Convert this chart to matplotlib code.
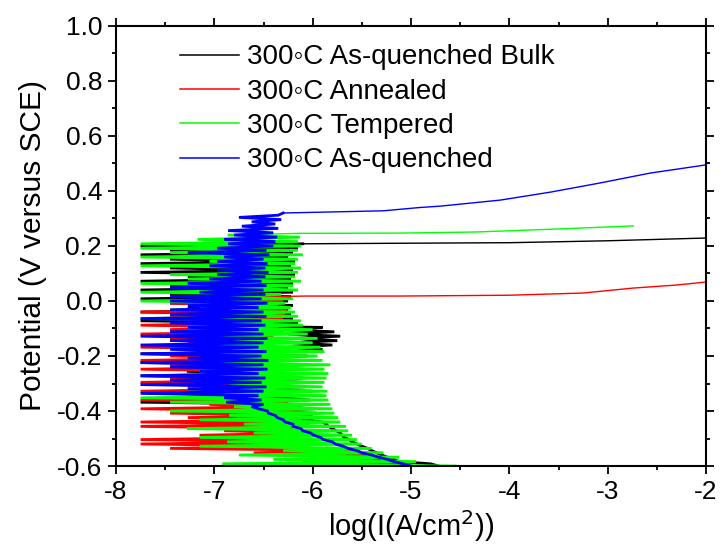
import matplotlib
matplotlib.use('Agg')
import matplotlib.pyplot as plt
from matplotlib.ticker import MultipleLocator, FormatStrFormatter

plt.rcParams['font.family'] = ['Liberation Sans', 'DejaVu Sans']
plt.rcParams['axes.unicode_minus'] = False

# Potential sample points of the scans (V versus SCE)
E_scan = [
    -0.600, -0.592, -0.584, -0.576, -0.568, -0.560, -0.552, -0.544, -0.536, -0.528,
    -0.520, -0.512, -0.504, -0.496, -0.488, -0.480, -0.472, -0.464, -0.456, -0.448,
    -0.440, -0.432, -0.424, -0.416, -0.408, -0.400, -0.392, -0.384, -0.376, -0.368,
    -0.360, -0.352, -0.344, -0.336, -0.328, -0.320, -0.312, -0.304, -0.296, -0.288,
    -0.280, -0.272, -0.264, -0.256, -0.248, -0.240, -0.232, -0.224, -0.216, -0.208,
    -0.200, -0.192, -0.184, -0.176, -0.168, -0.160, -0.152, -0.144, -0.136, -0.128,
    -0.120, -0.112, -0.104, -0.096, -0.088, -0.080, -0.072, -0.064, -0.056, -0.048,
    -0.040, -0.032, -0.024, -0.016, -0.008, 0.000, 0.008, 0.016, 0.024, 0.032,
    0.040, 0.048, 0.056, 0.064, 0.072, 0.080, 0.088, 0.096, 0.104, 0.112,
    0.120, 0.128, 0.136, 0.144, 0.152, 0.160, 0.168, 0.176, 0.184, 0.192,
    0.200, 0.208, 0.216, 0.224, 0.232, 0.240, 0.248, 0.256, 0.264, 0.272,
    0.280, 0.288, 0.296, 0.304, 0.312, 0.320,
]

labels = ['300\u25e6C As-quenched Bulk', '300\u25e6C Annealed',
          '300\u25e6C Tempered', '300\u25e6C As-quenched']
colors = ['#000000', '#ff0000', '#00ff00', '#0000ff']

# log(I) on the scan points (noisy low-current region)
bulk_logI = [
    -4.72, -4.80, -5.12, -5.18, -5.24, -5.30, -5.35, -5.40, -5.44, -5.50,
    -5.55, -5.60, -5.63, -5.68, -5.70, -5.72, -5.76, -5.80, -5.84, -5.86,
    -5.90, -6.20, -5.93, -6.40, -5.96, -6.80, -5.98, -6.50, -6.00, -7.75,
    -6.02, -6.60, -6.05, -7.45, -6.00, -6.90, -6.08, -7.27, -6.05, -6.70,
    -6.10, -7.75, -6.05, -7.28, -6.12, -6.95, -6.08, -7.75, -6.10, -7.15,
    -6.05, -7.75, -6.20, -5.90, -6.25, -5.80, -6.22, -5.75, -6.20, -5.72,
    -6.25, -5.78, -6.30, -5.90, -7.45, -6.15, -7.75, -6.20, -6.95, -6.22,
    -7.75, -6.25, -7.27, -6.20, -7.45, -6.25, -7.75, -6.22, -7.45, -6.20,
    -7.75, -6.25, -7.45, -6.20, -7.75, -6.22, -7.27, -6.18, -7.75, -6.20,
    -7.45, -6.22, -7.75, -6.18, -7.45, -6.25, -7.75, -6.20, -7.45, -6.15,
    -7.75, -6.10,
]
annealed_logI = [
    -5.05, -5.20, -6.10, -5.30, -5.80, -5.45, -6.60, -5.55, -7.45, -6.06,
    -7.75, -6.10, -7.75, -6.30, -7.15, -6.00, -6.90, -6.20, -7.75, -6.05,
    -7.75, -6.10, -7.27, -6.00, -7.45, -6.15, -7.75, -6.30, -7.05, -6.25,
    -7.75, -6.40, -7.15, -6.35, -7.75, -6.45, -7.27, -6.40, -7.75, -6.50,
    -7.45, -6.40, -7.05, -6.45, -7.75, -6.30, -7.45, -6.40, -7.75, -6.35,
    -7.45, -6.45, -7.15, -6.40, -7.75, -6.50, -7.27, -6.35, -7.45, -6.40,
    -7.75, -6.30, -7.45, -6.35, -7.75, -6.40, -7.27, -6.30, -7.45, -6.28,
    -7.75, -6.26, -7.15, -6.35, -7.45, -6.30, -6.90, -6.41,
]
tempered_logI = [
    -4.55, -6.92, -4.95, -6.40, -5.12, -6.75, -5.28, -6.30, -5.40, -7.15,
    -5.50, -6.87, -5.55, -7.15, -5.60, -6.60, -5.64, -7.28, -5.66, -6.70,
    -5.72, -7.15, -5.74, -6.85, -5.78, -7.45, -5.80, -6.80, -5.82, -7.45,
    -5.84, -7.75, -5.86, -6.90, -5.85, -7.27, -5.90, -6.85, -5.88, -7.05,
    -5.86, -6.95, -5.84, -7.15, -5.88, -6.85, -5.82, -7.27, -5.90, -6.90,
    -5.95, -7.05, -5.88, -6.85, -5.92, -7.15, -6.00, -6.80, -5.95, -7.45,
    -6.05, -6.90, -6.00, -7.27, -6.10, -6.95, -6.12, -7.75, -6.15, -6.85,
    -6.18, -7.45, -6.22, -6.80, -6.28, -7.75, -6.20, -7.05, -6.32, -7.75,
    -6.15, -6.90, -6.20, -7.75, -6.12, -7.27, -6.18, -7.45, -6.15, -6.85,
    -6.12, -7.75, -6.18, -7.05, -6.15, -7.75, -6.10, -7.45, -6.15, -7.75,
    -6.12, -7.75, -6.15, -7.17, -6.13, -6.85,
]
quenched_logI = [
    -5.00, -5.08, -5.17, -5.24, -5.33, -5.40, -5.50, -5.55, -5.64, -5.69,
    -5.77, -5.80, -5.89, -5.92, -5.99, -6.02, -6.10, -6.12, -6.20, -6.20,
    -6.28, -6.30, -6.36, -6.38, -6.45, -6.46, -6.55, -6.62, -6.50, -6.88,
    -6.52, -6.90, -6.55, -7.75, -6.50, -7.27, -6.47, -7.75, -6.52, -7.45,
    -6.48, -7.75, -6.55, -7.15, -6.46, -7.45, -6.50, -7.75, -6.45, -7.27,
    -6.52, -7.75, -6.47, -7.45, -6.55, -7.75, -6.50, -7.45, -6.46, -7.75,
    -6.50, -7.45, -6.55, -7.27, -6.48, -7.45, -6.52, -7.75, -6.47, -7.45,
    -6.50, -7.45, -6.55, -7.27, -6.46, -7.45, -6.52, -7.45, -6.48, -7.15,
    -6.50, -7.45, -6.47, -7.27, -6.52, -7.05, -6.48, -6.97, -6.45, -6.97,
    -6.48, -7.05, -6.46, -6.97, -6.50, -6.90, -6.44, -7.27, -6.47, -6.97,
    -6.40, -6.86, -6.38, -6.90, -6.36, -6.80, -6.40, -6.86, -6.35, -6.72,
    -6.38, -6.62, -6.32, -6.75, -6.35, -6.30,
]

# anodic branches (after breakdown)
bulk_tail_logI = [-5.11, -4.00, -3.00, -2.00]
bulk_tail_E = [0.210, 0.212, 0.219, 0.229]
annealed_tail_logI = [-6.06, -5.11, -4.00, -3.25, -2.74, -2.30, -2.00]
annealed_tail_E = [0.018, 0.018, 0.021, 0.029, 0.047, 0.058, 0.069]
tempered_tail_logI = [-6.13, -5.11, -4.33, -3.50, -2.74]
tempered_tail_E = [0.246, 0.247, 0.251, 0.262, 0.273]
quenched_tail_logI = [-5.79, -5.28, -4.91, -4.70, -4.09, -3.58, -3.08, -2.57, -2.00]
quenched_tail_E = [0.324, 0.328, 0.340, 0.345, 0.367, 0.396, 0.429, 0.465, 0.495]

series = [
    (bulk_logI, bulk_tail_logI, bulk_tail_E),
    (annealed_logI, annealed_tail_logI, annealed_tail_E),
    (tempered_logI, tempered_tail_logI, tempered_tail_E),
    (quenched_logI, quenched_tail_logI, quenched_tail_E),
]

fig = plt.figure(figsize=(7.21, 5.45), dpi=100)
ax = fig.add_axes([116 / 721, 79 / 545, 590 / 721, 440 / 545])

for (noisy, tx, tE), c, lab in zip(series, colors, labels):
    ny = list(E_scan[:len(noisy)])
    ax.plot(list(noisy), ny, color=c, lw=2.0, solid_joinstyle='miter')
    ax.plot([noisy[-1]] + list(tx), [ny[-1]] + list(tE), color=c, lw=1.0,
            label=lab)

ax.set_xlim(-8, -2)
ax.set_ylim(-0.6, 1.0)
ax.xaxis.set_major_locator(MultipleLocator(1))
ax.xaxis.set_minor_locator(MultipleLocator(0.5))
ax.yaxis.set_major_locator(MultipleLocator(0.2))
ax.yaxis.set_minor_locator(MultipleLocator(0.1))
ax.xaxis.set_major_formatter(FormatStrFormatter('%d'))
ax.yaxis.set_major_formatter(FormatStrFormatter('%.1f'))

for sp in ax.spines.values():
    sp.set_linewidth(1.5)
ax.tick_params(which='both', direction='out', top=True, right=True, width=1.3)
ax.tick_params(which='major', length=6, labelsize=19, pad=4)
ax.tick_params(which='minor', length=3)

ax.set_xlabel('log(I(A/cm$^2$))', fontsize=21, labelpad=3)
ax.set_ylabel('Potential (V versus SCE)', fontsize=21.5, labelpad=7)

leg = ax.legend(loc='upper left', bbox_to_anchor=(0.108, 0.958), frameon=False,
                fontsize=20, handlelength=2.15, handletextpad=0.26,
                labelspacing=0.3, borderpad=0, borderaxespad=0)
for h in leg.get_lines():
    h.set_linewidth(1.1)

fig.savefig('out.png', dpi=100)
